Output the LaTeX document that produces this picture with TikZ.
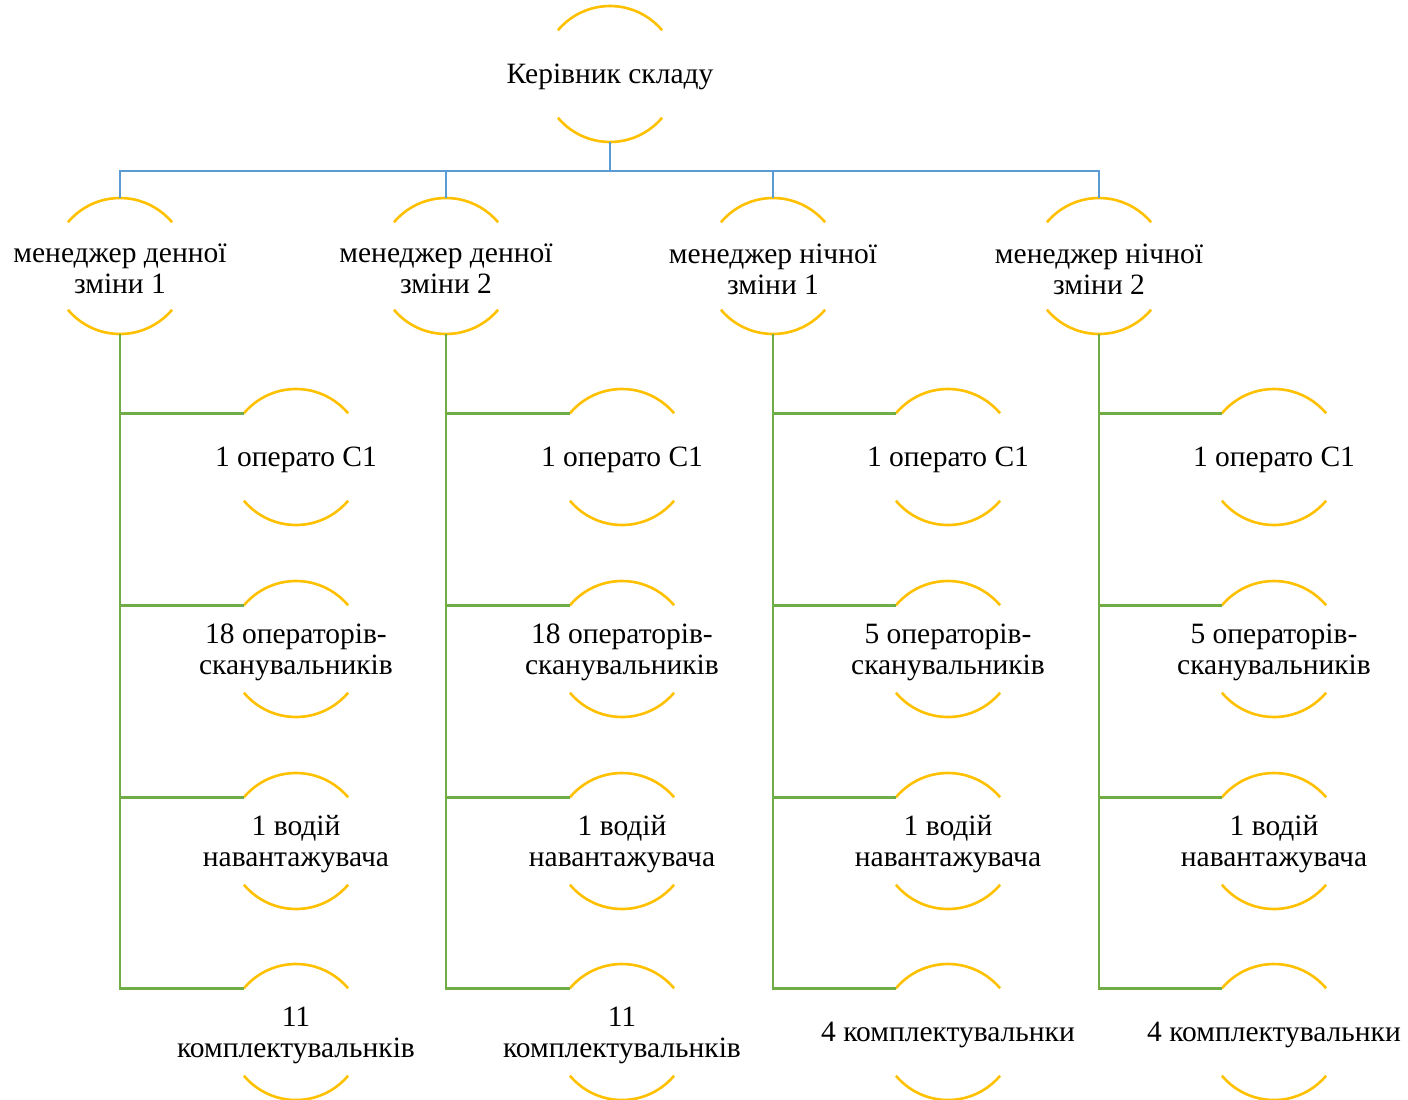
\documentclass[tikz,border=0pt]{standalone}
\usepackage{fontspec}
\setmainfont{Liberation Serif}
\definecolor{gold}{HTML}{FFC000}
\definecolor{lblue}{HTML}{5B9BD5}
\definecolor{lgreen}{HTML}{70AD47}
\begin{document}
\begin{tikzpicture}[x=1pt,y=-1pt,
  circ/.style={circle,draw=none,minimum size=136pt,inner sep=0pt,outer sep=0pt},
  txt/.style={inner sep=0pt,align=center,yshift=-3pt,font=\fontsize{29.5}{31}\selectfont},
  arcline/.style={draw=gold,line width=2.6pt},
  bl/.style={draw=lblue,line width=2.6pt},
  gl/.style={draw=lgreen,line width=2.6pt}]
\useasboundingbox (0,0) rectangle (1408,1100);
\newcommand{\arcs}[1]{%
  \draw[arcline] (#1.140) arc[start angle=140,end angle=40,radius=68pt];
  \draw[arcline] (#1.220) arc[start angle=220,end angle=320,radius=68pt];}
\newcommand{\cnode}[3]{%
  \node[circ] (#1) at (#2) {};
  \node[txt] (#1t) at (#1.center) {#3};}
\cnode{top}{610,74}{Керівник складу}
\cnode{m1}{120,266}{менеджер денної\\зміни 1}
\cnode{m2}{446,266}{менеджер денної\\зміни 2}
\cnode{m3}{773,266}{менеджер нічної\\зміни 1}
\cnode{m4}{1099,266}{менеджер нічної\\зміни 2}
% children
\cnode{a1}{296,457}{1 операто C1}
\cnode{a2}{296,649}{18 операторів-\\сканувальників}
\cnode{a3}{296,841}{1 водій\\навантажувача}
\cnode{a4}{296,1032}{11\\комплектувальнків}
\cnode{b1}{622,457}{1 операто C1}
\cnode{b2}{622,649}{18 операторів-\\сканувальників}
\cnode{b3}{622,841}{1 водій\\навантажувача}
\cnode{b4}{622,1032}{11\\комплектувальнків}
\cnode{c1}{948,457}{1 операто C1}
\cnode{c2}{948,649}{5 операторів-\\сканувальників}
\cnode{c3}{948,841}{1 водій\\навантажувача}
\cnode{c4}{948,1032}{4 комплектувальнки}
\cnode{d1}{1274,457}{1 операто C1}
\cnode{d2}{1274,649}{5 операторів-\\сканувальників}
\cnode{d3}{1274,841}{1 водій\\навантажувача}
\cnode{d4}{1274,1032}{4 комплектувальнки}
\foreach \n in {top,m1,m2,m3,m4,a1,a2,a3,a4,b1,b2,b3,b4,c1,c2,c3,c4,d1,d2,d3,d4}{\arcs{\n}}
% blue connectors
\coordinate (bus) at (610,171);
\draw[bl] (top.south) -- (bus);
\draw[bl] (bus) -| (m1.north);
\draw[bl] (bus) -| (m2.north);
\draw[bl] (bus) -| (m3.north);
\draw[bl] (bus) -| (m4.north);
% green connectors
\foreach \m/\c in {m1/a,m2/b,m3/c,m4/d}{
  \foreach \i in {1,2,3,4}{
    \draw[gl] (\m.south) |- (\c\i.140);
  }
}
\end{tikzpicture}
\end{document}
